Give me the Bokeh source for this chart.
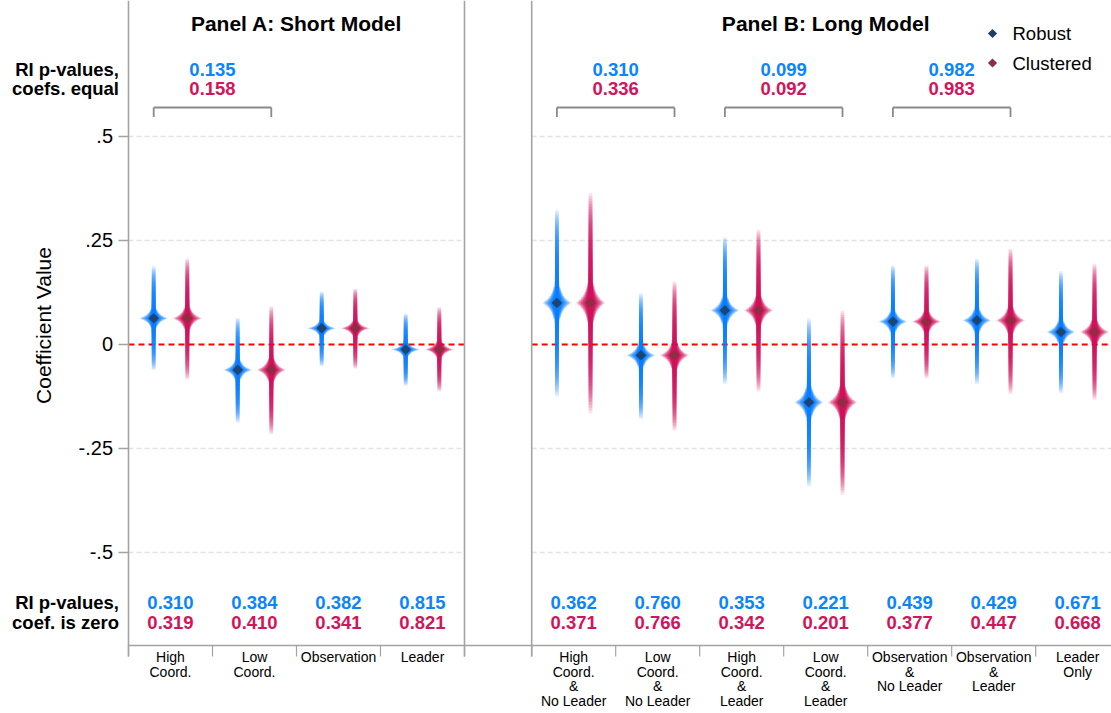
import numpy as np
from bokeh.plotting import figure
from bokeh.models import Range1d
from bokeh.core.properties import value
from bokeh.embed import file_html
from bokeh.resources import INLINE

# ---------------- data ----------------
cats_A = ["High\nCoord.", "Low\nCoord.", "Observation", "Leader"]
cats_B = ["High\nCoord.\n&\nNo Leader", "Low\nCoord.\n&\nNo Leader",
          "High\nCoord.\n&\nLeader", "Low\nCoord.\n&\nLeader",
          "Observation\n&\nNo Leader", "Observation\n&\nLeader", "Leader\nOnly"]

est_A = [0.063, -0.061, 0.039, -0.012]
rob_lo_A = [-0.062, -0.188, -0.052, -0.099]
rob_hi_A = [0.188, 0.064, 0.127, 0.074]
clu_lo_A = [-0.084, -0.216, -0.058, -0.113]
clu_hi_A = [0.207, 0.092, 0.134, 0.090]

est_B = [0.100, -0.026, 0.082, -0.139, 0.055, 0.058, 0.030]
rob_lo_B = [-0.125, -0.179, -0.095, -0.341, -0.081, -0.095, -0.117]
rob_hi_B = [0.324, 0.123, 0.258, 0.063, 0.190, 0.206, 0.176]
clu_lo_B = [-0.165, -0.207, -0.113, -0.361, -0.081, -0.119, -0.133]
clu_hi_B = [0.364, 0.151, 0.276, 0.082, 0.190, 0.230, 0.194]

p_zero_rob_A = [0.310, 0.384, 0.382, 0.815]
p_zero_clu_A = [0.319, 0.410, 0.341, 0.821]
p_zero_rob_B = [0.362, 0.760, 0.353, 0.221, 0.439, 0.429, 0.671]
p_zero_clu_B = [0.371, 0.766, 0.342, 0.201, 0.377, 0.447, 0.668]

eq_pairs_A = [(0, 1)]
p_eq_rob_A = [0.135]
p_eq_clu_A = [0.158]
eq_pairs_B = [(0, 1), (2, 3), (4, 5)]
p_eq_rob_B = [0.310, 0.099, 0.982]
p_eq_clu_B = [0.336, 0.092, 0.983]

y_ticks = [0.5, 0.25, 0.0, -0.25, -0.5]
y_tick_labels = [".5", ".25", "0", "-.25", "-.5"]
series_names = ["Robust", "Clustered"]
panel_titles = ["Panel A: Short Model", "Panel B: Long Model"]
row_label_eq = ["RI p-values,", "coefs. equal"]
row_label_zero = ["RI p-values,", "coef. is zero"]
y_title = "Coefficient Value"

# ---------------- layout / style ----------------
W, H = 1111, 713
ORIGIN = 0      # page offset of the canvas as photographed
PX_X = 84.0     # pixels per category unit
PX_Y = 416.0    # pixels per coefficient unit
X1_PAGE = 170.0 # page x of category position 1
Y0_PAGE = 344.0 # page y of value 0
x_start = 1 - (X1_PAGE - ORIGIN) / PX_X
x_end = x_start + W / PX_X
y_end = (Y0_PAGE - ORIGIN) / PX_Y
y_start = y_end - H / PX_Y
dx = 1.0 / PX_X
BASE_SHIFT = 0.4   # em correction for the rendered alphabetic baseline


def px_x(px):
    return 1 + (px - X1_PAGE) / PX_X


def px_y(py):
    return (Y0_PAGE - py) / PX_Y


BLUE = "#0a84ff"
RED = "#d4145a"
NAVY = "#1d3f66"
DKRED = "#8b3040"
AXIS_C = "#a3a3a3"
FONT = value("Liberation Sans")

GAP = 0.8
OFF = 0.2
xA = [i + 1.0 for i in range(len(cats_A))]
b_start = len(cats_A) + 0.5 + GAP
xB = [b_start + 0.5 + i for i in range(len(cats_B))]
spanA = (0.5, len(cats_A) + 0.5)
spanB = (b_start, b_start + len(cats_B))

p = figure(width=W, height=H, x_range=Range1d(x_start, x_end), y_range=Range1d(y_start, y_end),
           output_backend="svg", toolbar_location=None, x_axis_type=None, y_axis_type=None,
           min_border=0, title=None)
p.outline_line_color = None
p.background_fill_color = "white"


def txt(xs, ys, texts, size, color="#000000", bold=False, align="center",
        baseline="alphabetic", angle=0.0):
    ys = list(ys)
    if baseline == "alphabetic":
        ys = [y + BASE_SHIFT * size / PX_Y for y in ys]
    p.text(x=list(xs), y=ys, text=list(texts), text_font=FONT, text_font_size="%.1fpx" % size,
           text_font_style="bold" if bold else "normal", text_color=color,
           text_align=align, text_baseline=baseline, angle=angle)


# gridlines (dashed light gray) per panel
gx0, gx1, gy = [], [], []
for yt in y_ticks:
    if yt == 0:
        continue
    for s in (spanA, spanB):
        gx0.append(s[0]); gx1.append(min(s[1], x_end)); gy.append(yt)
p.segment(x0=gx0, y0=gy, x1=gx1, y1=gy, line_color="#e2e2e2", line_width=1.6, line_dash="5 3")

# zero line
p.segment(x0=[spanA[0], spanB[0]], y0=[0, 0], x1=[spanA[1], min(spanB[1], x_end)], y1=[0, 0],
          line_color="#ff0000", line_width=2, line_dash="6 4")

# axes frame lines
axis_y = px_y(645)
tick_y = px_y(656)
vx = [spanA[0], spanA[1], spanB[0]]
p.segment(x0=vx, y0=[y_end] * 3, x1=vx, y1=[tick_y] * 3, line_color=AXIS_C, line_width=1.6)
p.segment(x0=[spanA[0]], y0=[axis_y], x1=[x_end], y1=[axis_y], line_color=AXIS_C, line_width=1.6)
bt = [spanA[0] + i for i in range(len(cats_A) + 1)] + [spanB[0] + i for i in range(len(cats_B) + 1)]
bt = [b for b in bt if b < x_end]
p.segment(x0=bt, y0=[axis_y] * len(bt), x1=bt, y1=[tick_y] * len(bt), line_color=AXIS_C, line_width=1.2)
ytick_x0 = px_x(118)
p.segment(x0=[ytick_x0] * len(y_ticks), y0=y_ticks, x1=[spanA[0]] * len(y_ticks), y1=y_ticks,
          line_color=AXIS_C, line_width=1.4)

# spindles: stacked translucent layers (uniform + extra near the centre for the star arms)
N_LAYERS, N_CORE, CORE_T = 40, 30, 0.18
LAYER_ALPHA, W_MAX, W_MIN, SHAPE_P = 0.11, 15.5, 1.9, 12.0
layer_t = [k / N_LAYERS for k in range(1, N_LAYERS + 1)] + \
          [CORE_T * k / N_CORE for k in range(1, N_CORE + 1)]


def add_spindles(xs, est, lo, hi, color):
    L, R, B, T = [], [], [], []
    for xc, e, l, h in zip(xs, est, lo, hi):
        for t in layer_t:
            hw = (W_MIN + (W_MAX - W_MIN) * (1 - t) ** SHAPE_P) * dx
            L.append(xc - hw); R.append(xc + hw)
            B.append(e - t * (e - l)); T.append(e + t * (h - e))
    p.quad(left=L, right=R, bottom=B, top=T, fill_color=color, fill_alpha=LAYER_ALPHA, line_color=None)


rob_x = [x - OFF for x in xA + xB]
clu_x = [x + OFF for x in xA + xB]
add_spindles(rob_x, est_A + est_B, rob_lo_A + rob_lo_B, rob_hi_A + rob_hi_B, BLUE)
add_spindles(clu_x, est_A + est_B, clu_lo_A + clu_lo_B, clu_hi_A + clu_hi_B, RED)
p.scatter(x=rob_x, y=est_A + est_B, marker="square", angle=np.pi / 4, size=7.5,
          fill_color=NAVY, line_color=None, fill_alpha=0.9)
p.scatter(x=clu_x, y=est_A + est_B, marker="square", angle=np.pi / 4, size=7.5,
          fill_color=DKRED, line_color=None, fill_alpha=0.9)

# brackets + "coefs equal" p-values
br_top, br_bot = px_y(107), px_y(116.5)
bx0, by0, bx1, by1, mids, eq_r, eq_c = [], [], [], [], [], [], []
for xs, pairs, pr, pc in ((xA, eq_pairs_A, p_eq_rob_A, p_eq_clu_A), (xB, eq_pairs_B, p_eq_rob_B, p_eq_clu_B)):
    for (i, j), a, b in zip(pairs, pr, pc):
        l, r = xs[i] - OFF, xs[j] + OFF
        bx0 += [l, l, r]; bx1 += [r, l, r]
        by0 += [br_top, br_top, br_top]; by1 += [br_top, br_bot, br_bot]
        mids.append((l + r) / 2); eq_r.append("%.3f" % a); eq_c.append("%.3f" % b)
p.segment(x0=bx0, y0=by0, x1=bx1, y1=by1, line_color="#8a8a8a", line_width=1.8)
txt(mids, [px_y(76)] * len(mids), eq_r, 18.5, BLUE, bold=True)
txt(mids, [px_y(95)] * len(mids), eq_c, 18.5, RED, bold=True)

# "coef is zero" p-values
allx = xA + xB
txt(allx, [px_y(609.5)] * len(allx), ["%.3f" % v for v in p_zero_rob_A + p_zero_rob_B], 18.5, BLUE, bold=True)
txt(allx, [px_y(629)] * len(allx), ["%.3f" % v for v in p_zero_clu_A + p_zero_clu_B], 18.5, RED, bold=True)

# row labels on the left
lab_x = px_x(118.5)
txt([lab_x, lab_x], [px_y(76), px_y(95)], row_label_eq, 18.5, "#000000", bold=True, align="right")
txt([lab_x, lab_x], [px_y(609.5), px_y(629)], row_label_zero, 18.5, "#000000", bold=True, align="right")

# y tick labels and title
txt([px_x(112.5)] * len(y_ticks), [y - 7.2 / PX_Y for y in y_ticks], y_tick_labels, 20, "#000000", align="right")
txt([px_x(43)], [px_y(325)], [y_title], 21, "#000000", align="center", baseline="middle", angle=np.pi / 2)

# panel titles
txt([(spanA[0] + spanA[1]) / 2, (spanB[0] + spanB[1]) / 2], [px_y(31)] * 2, panel_titles, 21, "#000000", bold=True)

# category labels (multi-line)
cx, cy, ct = [], [], []
for x, lab in zip(allx, cats_A + cats_B):
    for k, line in enumerate(lab.split("\n")):
        cx.append(x); cy.append(px_y(662.5 + 14.5 * k)); ct.append(line)
txt(cx, cy, ct, 14, "#000000")

# legend
lg_x = px_x(992)
p.scatter(x=[lg_x, lg_x], y=[px_y(33), px_y(62.5)], marker="square", angle=np.pi / 4, size=6.5,
          fill_color=[NAVY, DKRED], line_color=None)
txt([px_x(1012)] * 2, [px_y(40), px_y(70)], series_names, 18.5, "#000000", align="left")

open("out.html", "w").write(file_html(p, INLINE))
